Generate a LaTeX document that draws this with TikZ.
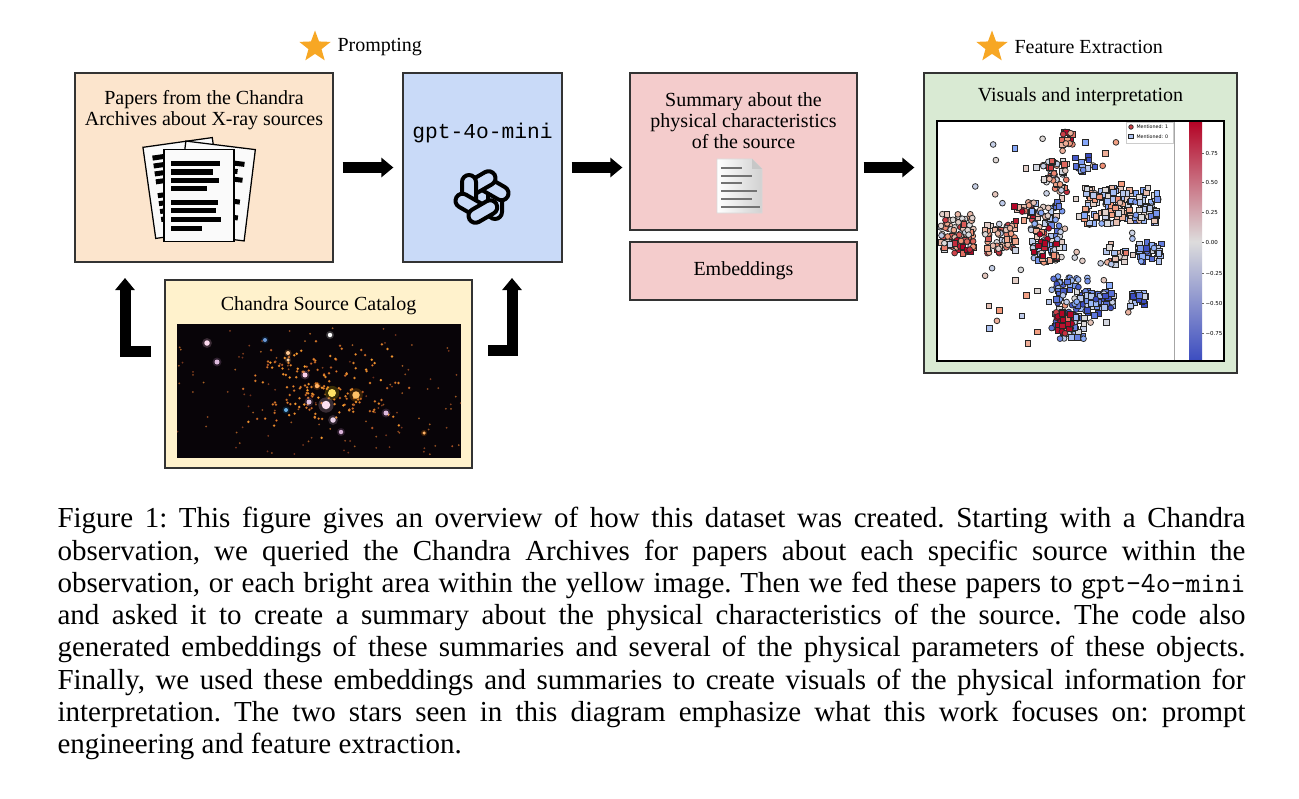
\documentclass[tikz,border=0pt]{standalone}
\usepackage{fontspec}
\setmainfont{Liberation Serif}
\newfontfamily\codefont{Liberation Mono}
\newfontfamily\plotfont{DejaVu Sans}
\usetikzlibrary{shapes.geometric,arrows.meta,positioning,calc}
\definecolor{peach}{RGB}{252,229,205}
\definecolor{skyblue}{RGB}{201,218,248}
\definecolor{rose}{RGB}{244,204,204}
\definecolor{mint}{RGB}{217,234,211}
\definecolor{cream}{RGB}{255,242,204}
\definecolor{starorange}{RGB}{247,167,36}
\definecolor{boxline}{RGB}{51,51,51}
\definecolor{cwred}{RGB}{180,4,38}
\definecolor{cwsalmon}{RGB}{244,154,123}
\definecolor{cwmid}{RGB}{221,220,220}
\definecolor{cwsky}{RGB}{141,176,254}
\definecolor{cwblue}{RGB}{59,76,192}
\definecolor{spacebg}{RGB}{8,4,8}
\definecolor{xorange}{RGB}{240,140,50}
\definecolor{xdim}{RGB}{150,60,35}
\tikzset{
    box/.style={draw=boxline, line width=0.5pt, inner sep=0pt},
    txt/.style={align=center, inner sep=0pt, font=\fontsize{8}{8.4}\selectfont},
    bigarrow/.style={line width=4.4pt, -{Triangle[length=4.8pt,width=7.6pt]}},
    sheet/.style={draw=black, line width=0.5pt, fill=black!2, minimum width=28pt, minimum height=36.8pt, inner sep=0pt},
    bar/.style={line width=2pt},
    badge/.style={star, star points=5, star point ratio=2.4, fill=starorange, minimum size=13.2pt, inner sep=0pt},
    marker/.style={draw=black!85, line width=0.3pt},
    ticklab/.style={anchor=west, inner sep=0pt, font=\plotfont\fontsize{2.2}{2.4}\selectfont}
}

\begin{document}
\begin{tikzpicture}[x=0.4pt, y=-0.4pt]
    \useasboundingbox (0,0) rectangle (1299,799);

    % Boxes
    \node[box, fill=peach, minimum width=103.2pt, minimum height=75.6pt] (papers) at (204,167.5) {};
    \node[box, fill=skyblue, minimum width=63.6pt, minimum height=75.6pt] (gpt) at (482.5,167.5) {};
    \node[box, fill=rose, minimum width=90.8pt, minimum height=62.8pt] (summary) at (743.5,151.5) {};
    \node[box, fill=rose, minimum width=90.8pt, minimum height=23.2pt] (embed) at (743.5,271) {};
    \node[box, fill=mint, minimum width=125.2pt, minimum height=120pt] (visuals) at (1080.5,223) {};
    \node[box, fill=cream, minimum width=122.8pt, minimum height=75.2pt] (catalog) at (318.5,374) {};

    % Labels
    \node[txt] (papers-text) at (204,110) {Papers from the Chandra\\Archives about X-ray sources};
    \node[txt, font=\codefont\fontsize{8.5}{9}\selectfont] (gpt-text) at (482.5,133) {gpt-4o-mini};
    \node[txt] (summary-text) at (743.5,121) {Summary about the\\physical characteristics\\of the source};
    \node[txt] (embed-text) at (embed) {Embeddings};
    \node[txt] (visuals-text) at (1080.5,97) {Visuals and interpretation};
    \node[txt] (catalog-text) at (318.5,306) {Chandra Source Catalog};
    \node[badge] (star1) at (315,47) {};
    \node[txt, anchor=west] (prompting) at (337,47) {Prompting};
    \node[badge] (star2) at (992,47) {};
    \node[txt, anchor=west] (features) at (1014,47) {Feature Extraction};

    % Arrows
    \coordinate (lfoot) at (151,351);
    \coordinate (lhead) at (125,278);
    \coordinate (rfoot) at (488,350);
    \coordinate (rhead) at (512,278);
    \draw[bigarrow, shorten <=3.6pt, shorten >=3.6pt] (papers.east |- gpt.west) -- (gpt.west);
    \draw[bigarrow, shorten <=3.6pt, shorten >=2.8pt] (gpt.east) -- (gpt.east -| summary.west);
    \draw[bigarrow, shorten <=2.4pt, shorten >=3.6pt] (gpt.east -| summary.east) -- (gpt.east -| visuals.west);
    \draw[bigarrow] (lfoot) -| (lhead);
    \draw[bigarrow] (rfoot) -| (rhead);

    % Papers icon
    \node[sheet, rotate=8] (sheet-left) at (184,188) {};
    \begin{scope}[shift={(184,188)}, rotate=8]
        \foreach \y/\l in {-34/22, -26/18, -18/22, -10/14, 4/22, 12/18, 20/22, 28/10}
            \draw[bar] (-27,\y) -- (\l,\y);
    \end{scope}
    \node[sheet, rotate=-7] (sheet-right) at (215,191) {};
    \begin{scope}[shift={(215,191)}, rotate=-7]
        \foreach \y/\l in {-30/26, -22/20, -14/26, -6/16, 8/26, 16/20, 24/26, 32/12}
            \draw[bar] (-26,\y) -- (\l,\y);
    \end{scope}
    \node[sheet] (sheet-front) at (199,195.5) {};
    \foreach \y/\l in {164/220, 172/213, 180/219, 188/207, 202/218, 210/216, 219/221, 228/202}
        \draw[bar] (171,\y) -- (\l,\y);

    % Logo
    \begin{scope}[shift={(482,197)}]
        \foreach \a in {0,60,...,300}
            \draw[rotate=\a, line width=1.6pt, fill=skyblue, rounded corners=2.8pt] (6,-9) rectangle (20,22);
    \end{scope}

    % Summary icon
    \shade[left color=white, right color=black!18, draw=black!15, line width=0.3pt]
        (717,159) -- (752,159) -- (762,169) -- (762,213) -- (717,213) -- cycle;
    \fill[black!22] (752,159) -- (752,169) -- (762,169) -- cycle;
    \foreach \y/\l in {168/742, 176/752, 183/742, 191/757, 199/752, 207/760}
        \draw[black!55, line width=0.6pt] (721,\y) -- (\l,\y);

    % Plot
    \fill[white] (937,121) rectangle (1224,361);
    \pgfmathsetseed{11}
    \begin{scope}
        \clip (937,121) rectangle (1174,361);
        \foreach \cx/\cy/\sx/\sy/\n/\hv/\sq in {
            1055/240/85/105/60/0/0.2,
            1067/138/6/7/16/0.6/-0.3,
            1055/178/12/18/45/0.35/-0.3,
            1085/162/10/10/14/-0.7/0.6,
            957/232/17/18/90/0.35/-0.7,
            963/247/9/7/25/0.9/-0.3,
            1000/238/16/16/60/0.3/-0.4,
            1024/213/10/10/15/0.7/-0.2,
            1048/232/18/30/80/-0.3/0.2,
            1045/245/12/18/20/0.8/0.3,
            1108/206/24/18/100/0/0.8,
            1147/205/12/18/45/-0.3/0.8,
            1117/256/10/9/18/0.1/0.6,
            1150/252/12/10/35/-0.5/0.8,
            1068/308/20/32/100/-0.5/-0.1,
            1064/323/8/11/26/0.85/-0.1,
            1138/300/8/7/24/-0.6/0.7,
            1100/304/14/12/40/-0.6/0.5}{
            \foreach \k in {1,...,\n}{
                \pgfmathsetmacro\px{\cx+\sx*rand}
                \pgfmathsetmacro\py{\cy+\sy*rand}
                \pgfmathsetmacro\vv{max(-1,min(1,\hv+0.55*rand))}
                \pgfmathsetmacro\m{rand}
                \ifdim\vv pt>0.5pt
                    \pgfmathsetmacro\pr{(2*\vv-1)*100}\def\mc{cwred!\pr!cwsalmon}
                \else\ifdim\vv pt>0pt
                    \pgfmathsetmacro\pr{2*\vv*100}\def\mc{cwsalmon!\pr!cwmid}
                \else\ifdim\vv pt>-0.5pt
                    \pgfmathsetmacro\pr{-2*\vv*100}\def\mc{cwsky!\pr!cwmid}
                \else
                    \pgfmathsetmacro\pr{(-2*\vv-1)*100}\def\mc{cwblue!\pr!cwsky}
                \fi\fi\fi
                \ifdim\m pt<\sq pt
                    \filldraw[marker, fill=\mc] (\px-2.8,\py-2.8) rectangle ++(5.6,5.6);
                \else
                    \filldraw[marker, fill=\mc] (\px,\py) circle[radius=1.15pt];
                \fi
            }
        }
    \end{scope}
    \draw[black!35, line width=0.4pt] (1174,121) -- (1174,361);
    % legend
    \draw[black!20, fill=white, line width=0.2pt] (1126,122) rectangle (1173,143);
    \filldraw[marker, fill=cwred!60!cwsalmon] (1131,127) circle[radius=0.9pt];
    \filldraw[marker, fill=cwsky!60!cwmid] (1128.8,134.3) rectangle ++(4.4,4.4);
    \node[ticklab, font=\plotfont\fontsize{1.9}{2}\selectfont] (legend1) at (1136,127) {Mentioned: 1};
    \node[ticklab, font=\plotfont\fontsize{1.9}{2}\selectfont] (legend2) at (1136,136.5) {Mentioned: 0};
    % colorbar
    \shade[top color=cwred, bottom color=cwblue, middle color=cwmid] (1189,122) rectangle (1202,361);
    \foreach \y/\t in {153/0.75, 182/0.50, 212/0.25, 242/0.00, 273/−0.25, 303/−0.50, 333/−0.75}{
        \draw[black!60, line width=0.2pt] (1202,\y) -- (1204,\y);
        \node[ticklab] at (1205,\y) {\t};
    }
    \draw[black, line width=0.5pt] (937,121) rectangle (1224,361);

    % Catalog image
    \begin{scope}
        \clip (177,324) rectangle (461,458);
        \fill[spacebg] (177,324) rectangle (461,458);
        \foreach \k in {1,...,110}{
            \pgfmathsetmacro\px{319+142*rand}
            \pgfmathsetmacro\py{391+67*rand}
            \pgfmathsetmacro\c{rnd*100}
            \fill[xorange!\c!xdim, opacity=0.7] (\px,\py) circle[radius=0.4pt];
        }
        \foreach \k in {1,...,170}{
            \pgfmathsetmacro\px{322+95*rand*(0.3+0.7*rnd)}
            \pgfmathsetmacro\py{390+55*rand*(0.4+0.6*rnd)}
            \pgfmathsetmacro\c{rnd*100}
            \fill[xorange!\c!xdim] (\px,\py) circle[radius=0.55pt];
            \fill[yellow!60!xorange, opacity=0.7] (\px,\py) circle[radius=0.22pt];
        }
        \foreach \x/\y/\col/\r in {207/343/magenta!25!white/1.1, 217/362/violet!45!white/1,
            265/340/cyan!50!blue/0.8, 330/335/white/0.9, 286/410/cyan!70!blue/0.8,
            305/375/magenta!30!white/1, 332/393/yellow!70!orange/1.6, 356/395/orange!80!yellow/1.5,
            326/405/magenta!20!white/1.7, 309/402/violet!40!white/1, 333/420/violet!30!white/1.1,
            386/413/violet!45!white/1, 341/432/violet!50!white/0.9, 424/433/orange/0.7,
            288/353/orange!70!white/0.8, 288/360/orange!60!white/0.7, 317/386/orange/0.9}{
            \fill[\col, opacity=0.2] (\x,\y) circle[radius=1.8*\r pt];
            \fill[\col!60!white] (\x,\y) circle[radius=\r pt];
        }
    \end{scope}

    % Caption
    \node[anchor=north west, text width=475.2pt, inner sep=0pt, align=justify,
          font=\fontsize{11.6}{12.9}\selectfont\frenchspacing] (caption) at (57,507) {Figure 1: This figure gives an overview of how this dataset was created. Starting with a Chandra\linebreak
observation, we queried the Chandra Archives for papers about each specific source within the\linebreak
observation, or each bright area within the yellow image. Then we fed these papers to \texttt{gpt-4o-mini}\linebreak
and asked it to create a summary about the physical characteristics of the source. The code also\linebreak
generated embeddings of these summaries and several of the physical parameters of these objects.\linebreak
Finally, we used these embeddings and summaries to create visuals of the physical information for\linebreak
interpretation. The two stars seen in this diagram emphasize what this work focuses on: prompt\linebreak
engineering and feature extraction.};
\end{tikzpicture}
\end{document}
